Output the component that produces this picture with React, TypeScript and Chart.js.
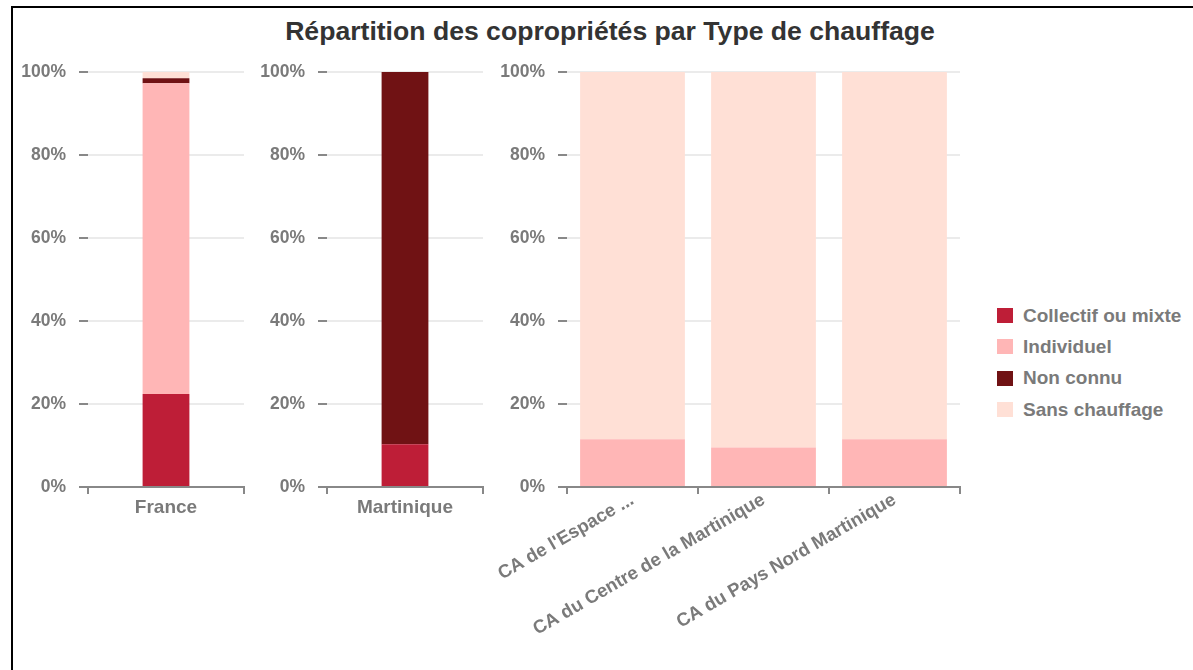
import React, { useEffect, useRef } from "react";
import { Chart, registerables } from "chart.js";

Chart.register(...registerables);

const TITLE = "Répartition des copropriétés par Type de chauffage";
const SERIES = ["Collectif ou mixte", "Individuel", "Non connu", "Sans chauffage"];
const COLORS = ["#be1e37", "#ffb6b6", "#701214", "#ffe0d6"];

const Y_TICKS = [0, 20, 40, 60, 80, 100];

// Panel 1 : France
const FRANCE_CATEGORIES = ["France"];
const FRANCE_COLLECTIF = [22.4];
const FRANCE_INDIVIDUEL = [74.9];
const FRANCE_NON_CONNU = [1.2];
const FRANCE_SANS = [1.5];

// Panel 2 : Martinique
const MARTINIQUE_CATEGORIES = ["Martinique"];
const MARTINIQUE_COLLECTIF = [10.3];
const MARTINIQUE_INDIVIDUEL = [0];
const MARTINIQUE_NON_CONNU = [89.7];
const MARTINIQUE_SANS = [0];

// Panel 3 : EPCI
const CA_CATEGORIES = ["CA de l'Espace ...", "CA du Centre de la Martinique", "CA du Pays Nord Martinique"];
const CA_COLLECTIF = [0, 0, 0];
const CA_INDIVIDUEL = [11.5, 9.5, 11.5];
const CA_NON_CONNU = [0, 0, 0];
const CA_SANS = [88.5, 90.5, 88.5];

const FONT = "'Liberation Sans', Arial, sans-serif";
const TEXT_GREY = "#7a7a7a";

type PanelProps = {
  left: number;
  width: number;
  labels: string[];
  values: number[][];
  barPct: number;
  rotation: number;
  labelSize: number;
  labelPad: number;
};

function Panel({ left, width, labels, values, barPct, rotation, labelSize, labelPad }: PanelProps) {
  const ref = useRef<HTMLCanvasElement | null>(null);
  useEffect(() => {
    if (!ref.current) return;
    const chart = new Chart(ref.current, {
      type: "bar",
      data: {
        labels,
        datasets: SERIES.map((name, i) => ({
          label: name,
          data: values[i],
          backgroundColor: COLORS[i],
          borderWidth: 0,
          barPercentage: barPct,
          categoryPercentage: 1,
        })),
      },
      options: {
        animation: false,
        responsive: false,
        layout: { padding: { top: 17, right: 3, left: 0, bottom: 0 } },
        plugins: {
          legend: { display: false },
          title: { display: false },
          tooltip: { enabled: false },
        },
        scales: {
          x: {
            stacked: true,
            offset: true,
            grid: {
              display: true,
              offset: true,
              drawOnChartArea: false,
              drawTicks: true,
              tickLength: 7,
              color: "#888",
              lineWidth: 2,
            },
            border: { display: true, color: "#888", width: 2 },
            ticks: {
              color: TEXT_GREY,
              font: { family: FONT, size: labelSize, weight: "bold" },
              minRotation: rotation,
              maxRotation: rotation,
              autoSkip: false,
              padding: labelPad,
            },
            afterFit: (s: any) => {
              s.height = 168;
              s.paddingLeft = 0;
              s.paddingRight = 0;
            },
          },
          y: {
            stacked: true,
            min: 0,
            max: 100,
            afterBuildTicks: (s: any) => {
              s.ticks = Y_TICKS.map((v) => ({ value: v }));
            },
            ticks: {
              callback: (v: any) => v + "%",
              color: TEXT_GREY,
              font: { family: FONT, size: 17.5, weight: "bold" },
              padding: 13,
            },
            grid: {
              color: "#ebebeb",
              lineWidth: 2,
              tickColor: "#888",
              tickLength: 9,
              tickWidth: 2,
            },
            border: { display: false },
            afterFit: (s: any) => {
              s.width = 76;
              s.paddingTop = 0;
              s.paddingBottom = 0;
            },
          },
        },
      } as any,
    });
    return () => chart.destroy();
  }, []);
  return (
    <canvas
      ref={ref}
      width={width}
      height={600}
      style={{ position: "absolute", left, top: 55, width, height: 600 }}
    />
  );
}

export default function App() {
  return (
    <div
      style={{
        position: "absolute",
        left: 0,
        top: 0,
        width: 1193,
        height: 670,
        overflow: "hidden",
        background: "#fff",
        fontFamily: FONT,
      }}
    >
      <div
        style={{
          position: "absolute",
          left: 11,
          top: 6,
          width: 1182,
          height: 664,
          boxSizing: "border-box",
          borderTop: "2px solid #000",
          borderLeft: "2px solid #000",
        }}
      />
      <div
        style={{
          position: "absolute",
          left: 0,
          top: 15,
          width: 1220,
          textAlign: "center",
          fontSize: 26.6,
          fontWeight: "bold",
          color: "#333",
          lineHeight: "32px",
          whiteSpace: "nowrap",
        }}
      >
        {TITLE}
      </div>
      <Panel
        left={12}
        width={235}
        labels={FRANCE_CATEGORIES}
        values={[FRANCE_COLLECTIF, FRANCE_INDIVIDUEL, FRANCE_NON_CONNU, FRANCE_SANS]}
        barPct={0.3}
        rotation={0}
        labelSize={19}
        labelPad={2}
      />
      <Panel
        left={251}
        width={235}
        labels={MARTINIQUE_CATEGORIES}
        values={[MARTINIQUE_COLLECTIF, MARTINIQUE_INDIVIDUEL, MARTINIQUE_NON_CONNU, MARTINIQUE_SANS]}
        barPct={0.3}
        rotation={0}
        labelSize={19}
        labelPad={2}
      />
      <Panel
        left={491}
        width={472}
        labels={CA_CATEGORIES}
        values={[CA_COLLECTIF, CA_INDIVIDUEL, CA_NON_CONNU, CA_SANS]}
        barPct={0.8}
        rotation={30}
        labelSize={18.5}
        labelPad={-5}
      />
      <div style={{ position: "absolute", left: 997, top: 300 }}>
        {SERIES.map((name, i) => (
          <div
            key={name}
            style={{ display: "flex", alignItems: "center", height: 31.3 }}
          >
            <div style={{ width: 16, height: 15, background: COLORS[i], marginRight: 10 }} />
            <span style={{ fontSize: 19, fontWeight: "bold", color: TEXT_GREY, whiteSpace: "nowrap" }}>
              {name}
            </span>
          </div>
        ))}
      </div>
    </div>
  );
}
